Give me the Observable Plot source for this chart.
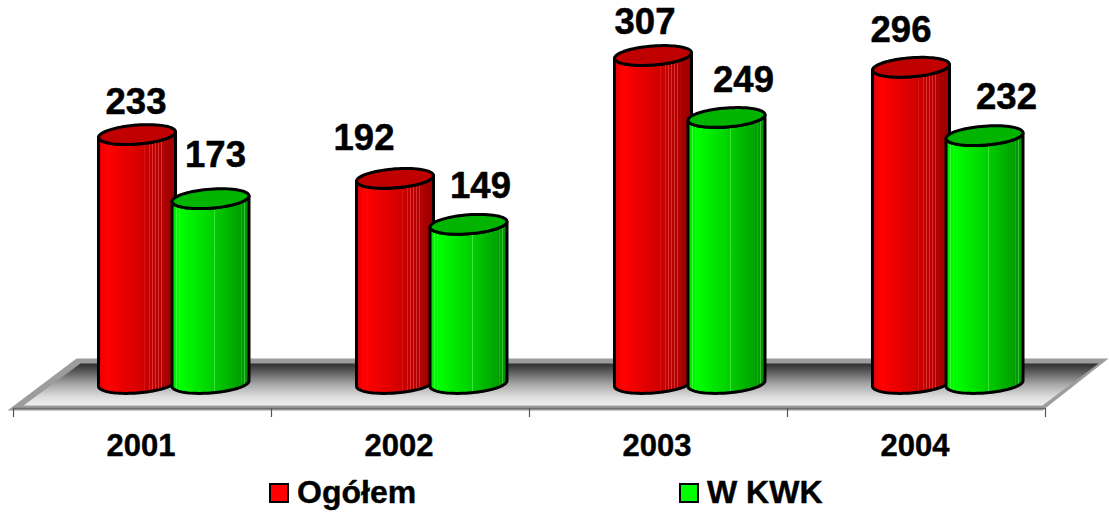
<!DOCTYPE html>
<html>
<head>
<meta charset="utf-8">
<script src="https://cdn.jsdelivr.net/npm/d3@7"></script>
<script src="https://cdn.jsdelivr.net/npm/@observablehq/plot@0.6"></script>
<style>
  html, body { margin: 0; padding: 0; background: #fff; }
  #wrap { position: relative; width: 1109px; height: 512px; font-family: "Liberation Sans", Arial, sans-serif; overflow: hidden; }
  .key { position: absolute; top: 482px; display: flex; align-items: center; height: 21px; font-weight: bold; font-size: 32px; color: #000; white-space: nowrap; -webkit-text-stroke: 0.4px #000; }
  .key i { display: block; width: 16px; height: 16px; border: 2.5px solid #000; margin-right: 8px; }
</style>
</head>
<body>
<div id="wrap"></div>
<script>
// Yearly totals
const years = ["2001", "2002", "2003", "2004"];
const ogolem = [233, 192, 307, 296];
const wKwk = [173, 149, 249, 232];
const seriesNames = ["Ogółem", "W KWK"];

// Chart frame
const width = 1109, height = 470;
const xRange = [13, 1045], yRange = [383, 55];
const pxPerBand = (xRange[1] - xRange[0]) / years.length;
const pxPerUnit = (yRange[0] - yRange[1]) / 307;
const toBand = (px) => px / pxPerBand;
const toVal = (px) => px / pxPerUnit;

// Cylinder shape, in pixels around each bar's centre
const rx = 38.5, ry = 9.5, tilt = 2.8;
const seriesOffset = [toBand(123.5), toBand(197)];

// Label nudges per bar, in pixels
const labelDx = [[-1, -31, -8, -10], [5, 12, 17, 22]];
const labelDy = [[-32, -40, -33, -37], [-43, -38, -37, -38]];

const bars = [];
[ogolem, wKwk].forEach((values, s) => values.forEach((value, i) => {
  bars.push({id: `${s}-${i}`, s, i, value, x: i + seriesOffset[s]});
}));

// One point of the slightly tilted ellipse at angle t
const rim = (b, level, t) => ({
  x: b.x + toBand(rx * Math.cos(t)),
  y: level + toVal(ry * Math.sin(t) + tilt * Math.cos(t))
});

const sweep = (from, to, n = 48) => d3.range(n + 1).map((k) => from + (to - from) * k / n);

// Side wall: lower half of the base ellipse, then the upper half of the lid
const bodyOf = (b) => [
  ...sweep(Math.PI, 0).map((t) => rim(b, 0, -t + 2 * Math.PI)),
  ...sweep(0, Math.PI).map((t) => rim(b, b.value, -t))
];
const capOf = (b) => sweep(0, 2 * Math.PI, 72).slice(0, -1).map((t) => rim(b, b.value, t));

// Platform beneath the bars, in value units
const floorBack = toVal(yRange[0] - 363), floorBackOuter = toVal(yRange[0] - 358);
const floorFront = -toVal(405 - yRange[0]), floorFrontOuter = -toVal(410 - yRange[0]);
const floorOuter = [
  {x: toBand(7 - 13), y: floorFrontOuter},
  {x: toBand(76 - 13), y: floorBackOuter},
  {x: toBand(1108 - 13), y: floorBackOuter},
  {x: toBand(1042 - 13), y: floorFrontOuter}
];
const floorInner = [
  {x: toBand(23 - 13), y: floorFront},
  {x: toBand(80 - 13), y: floorBack},
  {x: toBand(1098 - 13), y: floorBack},
  {x: toBand(1042 - 13), y: floorFront}
];
const axisLevel = -toVal(408 - yRange[0]);
const tickEnd = -toVal(417 - yRange[0]);
const yearLabelLevel = -toVal(446 - yRange[0]);

// Shaded fills: metal-like sheen with fine pale ribs
const sheens = [
  {id: "bar-red", stops: ["#e00000", "#ff0000", "#f00000", "#c80000", "#9a0000"], rib: "#ff8080"},
  {id: "bar-green", stops: ["#00e000", "#00ff00", "#00f000", "#00c000", "#009000"], rib: "#90ff90"}
];
const ribs = [0.06, 0.1, 0.14, 0.55, 0.6, 0.66, 0.7, 0.74, 0.78, 0.82, 0.86, 0.9, 0.94];

function gradients() {
  const defs = d3.create("svg:defs");
  for (const {id, stops, rib} of sheens) {
    const color = d3.scaleLinear().domain([0, 0.1, 0.3, 0.65, 1]).range(stops).interpolate(d3.interpolateRgb);
    const g = defs.append("linearGradient").attr("id", id);
    const add = (o, c) => g.append("stop").attr("offset", o).attr("stop-color", c);
    add(0, color(0));
    for (const f of ribs) {
      add(f - 0.003, color(f - 0.003));
      add(f - 0.002, d3.interpolateRgb(color(f), rib)(0.4));
      add(f + 0.002, d3.interpolateRgb(color(f), rib)(0.4));
      add(f + 0.003, color(f + 0.003));
    }
    add(1, color(1));
  }
  const w = defs.append("linearGradient").attr("id", "floor-shade").attr("x2", 0).attr("y2", 1);
  [[0, "#2e2e2e"], [0.2, "#5c5c5c"], [0.5, "#a8a8a8"], [0.8, "#dedede"], [1, "#eeeeee"]]
    .forEach(([o, c]) => w.append("stop").attr("offset", o).attr("stop-color", c));
  return defs.node();
}

const bodyFills = ["url(#bar-red)", "url(#bar-green)"];
const capFills = ["#c00000", "#00b400"];

const barMarks = bars.flatMap((b) => [
  Plot.line(bodyOf(b), {x: "x", y: "y", curve: "linear-closed", fill: bodyFills[b.s], stroke: "#000", strokeWidth: 3, strokeLinejoin: "round"}),
  Plot.line(capOf(b), {x: "x", y: "y", curve: "linear-closed", fill: capFills[b.s], stroke: "#000", strokeWidth: 3})
]);

const chart = Plot.plot({
  width, height,
  margin: 0,
  style: {background: "transparent", fontFamily: "'Liberation Sans', Arial, sans-serif", overflow: "visible"},
  x: {domain: [0, years.length], range: xRange, axis: null},
  y: {domain: [0, 307], range: yRange, axis: null},
  marks: [
    gradients,
    Plot.line(floorOuter, {x: "x", y: "y", curve: "linear-closed", fill: "#9c9c9c", stroke: "none"}),
    Plot.line(floorInner, {x: "x", y: "y", curve: "linear-closed", fill: "url(#floor-shade)", stroke: "none"}),
    Plot.ruleY([axisLevel], {x1: 0, x2: years.length, stroke: "#6e6e6e", strokeWidth: 1.5}),
    Plot.ruleX(d3.range(years.length + 1), {y1: axisLevel, y2: tickEnd, stroke: "#555", strokeWidth: 1.2}),
    // Each year's green bar is drawn over its red neighbour
    ...barMarks,
    Plot.text(bars, {
      x: (b) => b.x + toBand(labelDx[b.s][b.i]),
      y: (b) => b.value - toVal(labelDy[b.s][b.i]),
      text: (b) => String(b.value),
      fontSize: 36.5, fontWeight: "bold", fill: "#000", stroke: "#000", strokeWidth: 0.5, lineAnchor: "middle"
    }),
    Plot.text(years, {
      x: (d, i) => i + 0.5,
      y: yearLabelLevel,
      dx: -1.5,
      text: (d) => d,
      fontSize: 31, fontWeight: "bold", fill: "#000", stroke: "#000", strokeWidth: 0.4, lineAnchor: "middle"
    })
  ]
});

const wrap = document.getElementById("wrap");
wrap.append(chart);

// Series key below the plot
[[269, "#ff0000"], [679, "#00ff00"]].forEach(([left, color], i) => {
  const key = document.createElement("div");
  key.className = "key";
  key.style.left = left + "px";
  const box = document.createElement("i");
  box.style.background = color;
  key.append(box, seriesNames[i]);
  wrap.append(key);
});
</script>
</body>
</html>
